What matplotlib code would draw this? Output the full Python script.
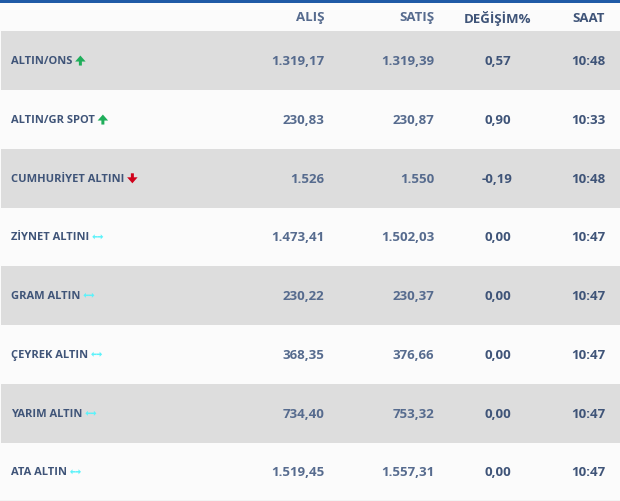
import matplotlib
matplotlib.use("Agg")
import matplotlib.pyplot as plt

names = ["ALTIN/ONS", "ALTIN/GR SPOT", "CUMHURİYET ALTINI", "ZİYNET ALTINI",
         "GRAM ALTIN", "ÇEYREK ALTIN", "YARIM ALTIN", "ATA ALTIN"]
trend = ["up", "up", "down", "flat", "flat", "flat", "flat", "flat"]
alis = ["1.319,17", "230,83", "1.526", "1.473,41", "230,22", "368,35", "734,40", "1.519,45"]
satis = ["1.319,39", "230,87", "1.550", "1.502,03", "230,37", "376,66", "753,32", "1.557,31"]
degisim = ["0,57", "0,90", "-0,19", "0,00", "0,00", "0,00", "0,00", "0,00"]
saat = ["10:48", "10:33", "10:48", "10:47", "10:47", "10:47", "10:47", "10:47"]
headers = ["ALIŞ", "SATIŞ", "DEĞİŞİM%", "SAAT"]

W, H = 620, 502
FONT = "Open Sans"
NAVY = "#3f5478"
VALUE = "#566b8e"
DARK = "#3f5478"
row_edges = [31, 90.5, 149, 208, 266, 325, 384, 443, 501]

fig = plt.figure(figsize=(W / 100, H / 100), dpi=100, facecolor="#fbfbfb")
ax = fig.add_axes([0, 0, 1, 1])
ax.set_xlim(0, W)
ax.set_ylim(H, 0)
ax.axis("off")

ax.fill_between([0, W], 0, 3.5, color="#1f5aa6", lw=0)
for i in range(len(names)):
    y0, y1 = row_edges[i], row_edges[i + 1]
    if i % 2 == 0:
        ax.fill_between([1, W], y0 + 0.5, y1 + 0.5, color="#dddddd", lw=0)
ax.plot([0, W], [501.5, 501.5], color="#d5d5d5", lw=1)

for x, h in zip([324.5, 434, 531, 605], headers):
    ax.text(x, 18, h, ha="right", va="center", family=FONT, weight="bold", fontsize=9.5,
            color=VALUE if h in ("ALIŞ", "SATIŞ") else DARK)

fig.canvas.draw()
rend = fig.canvas.get_renderer()
COL = {"up": "#1fae5a", "down": "#d0021b", "flat": "#5cf2fa"}
for i, n in enumerate(names):
    yc = (row_edges[i] + row_edges[i + 1]) / 2 + 0.8
    t = ax.text(11, yc, n, ha="left", va="center", family=FONT, weight="bold", fontsize=8.05, color=NAVY)
    bb = t.get_window_extent(rend)
    xs = bb.x1 + 3
    k = trend[i]
    if k in ("up", "down"):
        s = -1 if k == "up" else 1
        ax.arrow(xs + 5, yc - s * 5, 0, s * 10, width=3, head_width=10.5, head_length=6,
                 length_includes_head=True, color=COL[k], lw=0)
    else:
        xm = xs + 5.5
        for d in (-1, 1):
            ax.arrow(xm, yc, d * 5.5, 0, width=1.5, head_width=5, head_length=2.5,
                     length_includes_head=True, color=COL[k], lw=0)
    ax.text(324.5, yc, alis[i], ha="right", va="center", family=FONT, weight="bold", fontsize=9.5, color=VALUE)
    ax.text(434, yc, satis[i], ha="right", va="center", family=FONT, weight="bold", fontsize=9.5, color=VALUE)
    ax.text(497.5, yc, degisim[i], ha="center", va="center", family=FONT, weight="bold", fontsize=9.5, color=DARK)
    ax.text(605, yc, saat[i], ha="right", va="center", family=FONT, weight="bold", fontsize=9.5, color=DARK)

fig.savefig("out.png", dpi=100, facecolor=fig.get_facecolor())
